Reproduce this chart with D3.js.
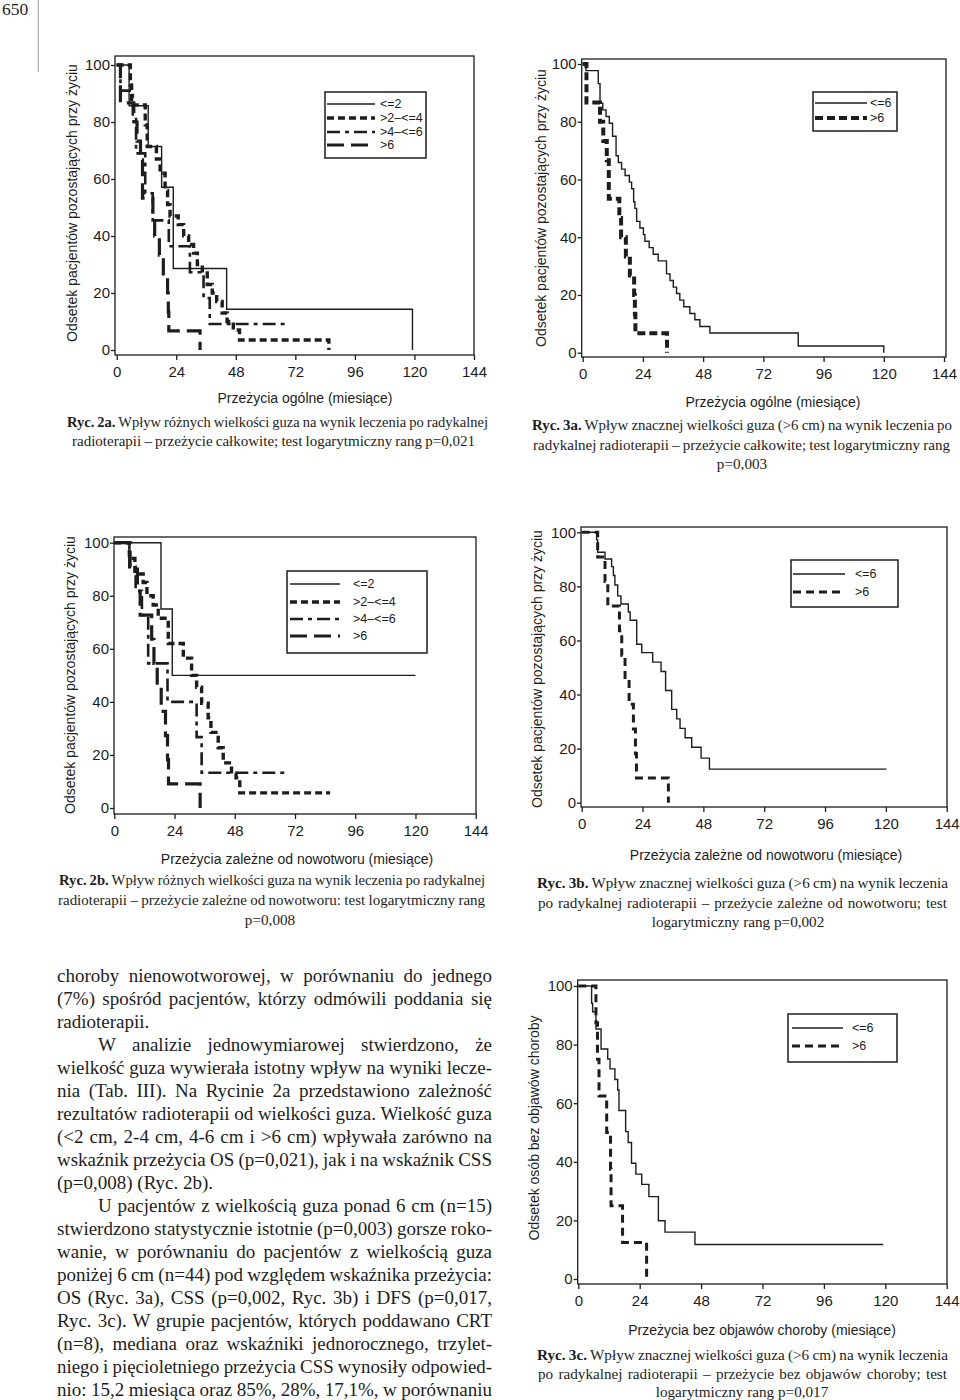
<!DOCTYPE html>
<html><head><meta charset="utf-8">
<script src="https://cdnjs.cloudflare.com/ajax/libs/d3/7.8.5/d3.min.js"></script>
<style>html,body{margin:0;padding:0;background:#fff;}svg{display:block;}</style>
</head><body>
<script>
// ================= DATA =================
const xTicks=[0,24,48,72,96,120,144];
const yTicks=[0,20,40,60,80,100];
const groups4=["<=2",">2–<=4",">4–<=6",">6"];
const groups2=["<=6",">6"];

// Overall survival (months, % alive) – Ryc. 2a / 3a
const os_le2=[[0,100],[5,85.7],[12.7,71.4],[18.1,57.1],[22.8,28.6],[44.3,14.3],[119.2,0]];
const os_gt2le4=[[0,100],[5.5,93],[6,86],[11.5,79],[12.3,71.4],[16,67],[17.5,62],[19.5,56],[20.5,51],[21.5,47],[24.8,44],[27,40],[29,37],[31,34],[32.5,30],[34.5,27],[36.5,23],[38.5,20],[40.3,17],[42.5,13],[44.5,10],[47,7],[49.5,3.5],[85.5,0]];
const os_gt4le6=[[0,100],[1.5,91],[6.5,82],[7.8,69],[11.5,55],[14.5,45.5],[21,36.4],[29.5,27.3],[35,18.2],[37.5,9.1],[67.8,9.1]];
const os_gt6=[[0,100],[1.5,86.7],[6.9,80],[8.2,73.3],[9.6,66.7],[10.4,53.3],[14.6,46.7],[15.3,40],[17.2,33.3],[18.8,26.7],[20.5,20],[20.8,13.3],[21,6.7],[33.6,0]];
const os_le6=[[0,100],[1.3,97.7],[6.2,93.2],[6.9,86.4],[8,84.1],[9.3,81.8],[10.6,79.5],[11.9,75],[13.3,68.2],[14.2,65.9],[15.5,63.6],[16.9,61.4],[18.6,59.1],[19.5,56.8],[20.3,52.3],[20.8,50],[21.5,45.5],[22.8,43.2],[24.2,40.9],[24.8,38.6],[26.5,36.4],[28.1,34.1],[30.1,31.8],[33.4,27.3],[34.8,25],[36.1,22.7],[37.4,20.5],[38.7,18.2],[40.3,15.9],[42.7,13.6],[44.7,11.4],[46.7,9.1],[50.7,6.8],[85.9,2.3],[120,0]];

// Cancer-specific survival – Ryc. 2b / 3b
const css_le2=[[0,100],[18.6,75],[23.1,50],[120,50]];
const css_gt2le4=[[0,100],[6,94.1],[8.2,88.2],[11.5,85],[13,80],[15.5,76.5],[17.5,71.5],[21.5,62],[27.5,56.5],[30.8,50],[32.8,45.5],[34.8,39.5],[37.4,34],[38.5,28.5],[41.4,22.7],[43.4,17],[46.7,13],[48.5,11.4],[50,5.7],[86,5.7]];
const css_gt4le6=[[0,100],[6,90.9],[8.5,81.8],[11,72.7],[13.5,54.5],[21.2,40],[32.8,26.7],[34.8,13.3],[69.3,13.3]];
const css_gt6=[[0,100],[6.3,90.9],[9.2,81.8],[10.3,72.7],[14.9,63.6],[15.8,54.5],[17.1,45.5],[18.7,36.4],[20.4,27.3],[21.2,18.2],[21.6,9.1],[34.2,0]];
const css_le6=[[0,100],[5.9,97.2],[6.3,92.6],[9.2,90.1],[11.8,87.3],[12.5,84],[13.1,80.5],[14.2,76.5],[15.5,73.5],[18.4,70.5],[19.1,67.5],[21.7,58.6],[23.7,55.5],[28,52],[31.3,48.5],[33.1,41.5],[35.5,34.5],[37.5,31],[38.8,27.5],[40.8,24],[43.4,20.5],[47.1,16.5],[50.4,12.4],[120.3,12.4]];

// Disease-free survival – Ryc. 3c
const dfs_le6=[[0,100],[5.2,94.1],[5.6,91.2],[6.9,85.3],[8.9,78.5],[11.5,75.1],[12.4,71.7],[14.3,68.1],[15.4,64.5],[15.9,57.5],[18.5,50.3],[19.5,46.6],[20.8,39.5],[22.5,35.8],[24.8,32.3],[27.6,28.1],[31.3,19.9],[33.9,16],[45.6,11.8],[119.2,11.8]];
const dfs_gt6=[[0,100],[6.9,87.5],[7.5,75],[8.1,62.5],[11.1,50],[12.6,37.5],[12.8,25],[17.3,12.5],[26.7,0]];

// Texts
const yTitleAlive="Odsetek pacjentów pozostających przy życiu";
const yTitleDFS="Odsetek osób bez objawów choroby";
const xTitleOS="Przeżycia ogólne (miesiące)";
const xTitleCSS="Przeżycia zależne od nowotworu (miesiące)";
const xTitleDFS="Przeżycia bez objawów choroby (miesiące)";
const cap2a=["Ryc. 2a."," Wpływ różnych wielkości guza na wynik leczenia po radykalnej","radioterapii – przeżycie całkowite; test logarytmiczny rang p=0,021"];
const cap3a=["Ryc. 3a."," Wpływ znacznej wielkości guza (>6 cm) na wynik leczenia po","radykalnej radioterapii – przeżycie całkowite; test logarytmiczny rang","p=0,003"];
const cap2b=["Ryc. 2b."," Wpływ różnych wielkości guza na wynik leczenia po radykalnej","radioterapii – przeżycie zależne od nowotworu: test logarytmiczny rang","p=0,008"];
const cap3b=["Ryc. 3b."," Wpływ znacznej wielkości guza (>6 cm) na wynik leczenia","po radykalnej radioterapii – przeżycie zależne od nowotworu; test","logarytmiczny rang p=0,002"];
const cap3c=["Ryc. 3c."," Wpływ znacznej wielkości guza (>6 cm) na wynik leczenia","po radykalnej radioterapii – przeżycie bez objawów choroby; test","logarytmiczny rang p=0,017"];
const bodyLines=[
"choroby nienowotworowej, w porównaniu do jednego",
"(7%) spośród pacjentów, którzy odmówili poddania się",
"radioterapii.",
"W analizie jednowymiarowej stwierdzono, że",
"wielkość guza wywierała istotny wpływ na wyniki lecze-",
"nia (Tab. III). Na Rycinie 2a przedstawiono zależność",
"rezultatów radioterapii od wielkości guza. Wielkość guza",
"(<2 cm, 2-4 cm, 4-6 cm i >6 cm) wpływała zarówno na",
"wskaźnik przeżycia OS (p=0,021), jak i na wskaźnik CSS",
"(p=0,008) (Ryc. 2b).",
"U pacjentów z wielkością guza ponad 6 cm (n=15)",
"stwierdzono statystycznie istotnie (p=0,003) gorsze roko-",
"wanie, w porównaniu do pacjentów z wielkością guza",
"poniżej 6 cm (n=44) pod względem wskaźnika przeżycia:",
"OS (Ryc. 3a), CSS (p=0,002, Ryc. 3b) i DFS (p=0,017,",
"Ryc. 3c). W grupie pacjentów, których poddawano CRT",
"(n=8), mediana oraz wskaźniki jednorocznego, trzylet-",
"niego i pięcioletniego przeżycia CSS wynosiły odpowied-",
"nio: 15,2 miesiąca oraz 85%, 28%, 17,1%, w porównaniu"];
const bodyIndented=[3,10];
const bodyRagged=[2,9];
const pageNumber="650";

// ================= STYLE / LAYOUT =================
const INK="#1d1d1d";
const SANS="'Liberation Sans', Arial, Helvetica, sans-serif";
const SERIF="'Liberation Serif', 'Times New Roman', serif";
const styles={
  solid:{w:1.4,dash:null},
  shortThick:{w:3.4,dash:"7,4"},
  longShort:{w:2.6,dash:"13,5,4,5"},
  longThick:{w:3.2,dash:"17,7"},
  blockThick:{w:4,dash:"8,4"},
  dash:{w:3,dash:"8,5"}
};

const charts=[
 {frame:{l:115,t:56,r:474,b:355}, xr:[116.7,474], yr:[350,65],
  series:[[os_le2,"solid"],[os_gt2le4,"shortThick"],[os_gt4le6,"longShort"],[os_gt6,"longThick"]], labels:groups4,
  legend:{l:325,t:92,r:426,b:158,lx0:327,lx1:375,tx:380,rows:[104,118,132,145]},
  xTitle:xTitleOS, xt:[305,398], yTitle:yTitleAlive, yt:[72,203],
  cap:cap2a, capLayout:[{x0:67,x1:488,y:422},{x0:72,x1:475,y:441}]},
 {frame:{l:581.7,t:59,r:946,b:357}, xr:[582.7,944], yr:[352.7,64],
  series:[[os_le6,"solid"],[os_gt6,"blockThick"]], labels:groups2,
  legend:{l:813,t:92,r:897,b:131,lx0:815,lx1:867,tx:870,rows:[103,118]},
  xTitle:xTitleOS, xt:[773,402], yTitle:yTitleAlive, yt:[541,208],
  cap:cap3a, capLayout:[{x0:532,x1:952,y:425},{x0:533,x1:950,y:445},{cx:742,y:464}]},
 {frame:{l:114,t:537,r:476,b:814}, xr:[114.3,475.7], yr:[808,542.7],
  series:[[css_le2,"solid"],[css_gt2le4,"shortThick"],[css_gt4le6,"longShort"],[css_gt6,"longThick"]], labels:groups4,
  legend:{l:287,t:571,r:427,b:653,lx0:290,lx1:340,tx:353,rows:[584,602,619,636]},
  xTitle:xTitleCSS, xt:[297,859], yTitle:yTitleAlive, yt:[70,675],
  cap:cap2b, capLayout:[{x0:59,x1:485,y:880},{x0:58,x1:485,y:900},{cx:270,y:920}]},
 {frame:{l:581,t:527,r:947,b:807}, xr:[581.7,946.7], yr:[802.7,532.3],
  series:[[css_le6,"solid"],[css_gt6,"dash"]], labels:groups2,
  legend:{l:791,t:560,r:898,b:607,lx0:793,lx1:845,tx:855,rows:[574,592]},
  xTitle:xTitleCSS, xt:[766,855], yTitle:yTitleAlive, yt:[537,669],
  cap:cap3b, capLayout:[{x0:537,x1:948,y:883},{x0:538,x1:947,y:903},{cx:738,y:922}]},
 {frame:{l:577.7,t:980,r:947,b:1284}, xr:[578.3,946.7], yr:[1279,986],
  series:[[dfs_le6,"solid"],[dfs_gt6,"dash"]], labels:groups2,
  legend:{l:788,t:1014,r:897,b:1062,lx0:792,lx1:843,tx:852,rows:[1028,1046]},
  xTitle:xTitleDFS, xt:[762,1330], yTitle:yTitleDFS, yt:[534,1128],
  cap:cap3c, capLayout:[{x0:537,x1:948,y:1355},{x0:538,x1:947,y:1374},{cx:742,y:1392}]}
];

// ================= DRAW =================
const svg=d3.select("body").append("svg").attr("width",960).attr("height",1400);
svg.append("rect").attr("width",960).attr("height",1400).attr("fill","#fff");

function textLine(parts,o){
  const t=svg.append("text").attr("y",o.y).attr("dy","0.35em")
    .attr("font-family",o.font).attr("font-size",o.size).attr("fill",INK).style("white-space","pre");
  parts.forEach(p=>t.append("tspan").attr("font-weight",p.b?"bold":null).text(p.t));
  if(o.cx!==undefined){t.attr("x",o.cx).attr("text-anchor","middle");return t;}
  t.attr("x",o.x0);
  if(o.x1===undefined) return t;
  const target=o.x1-o.x0;
  const full=parts.map(p=>p.t).join("");
  const n=(full.match(/ /g)||[]).length;
  let w=t.node().getComputedTextLength();
  // shrink the font if the words would not fit with near-normal spaces
  const minGap=-0.6;
  if(n>0 && (target-w)/n<minGap){
    let size=o.size;
    for(let k=0;k<12 && (target-w)/n<minGap;k++){
      size=size*Math.min(0.995,(target-n*minGap)/w);
      t.attr("font-size",size);
      w=t.node().getComputedTextLength();
    }
  }
  if(n>0) t.style("word-spacing",((target-w)/n)+"px");
  const w2=t.node().getBBox().width;
  if(Math.abs(w2-target)>2){t.style("word-spacing",null).attr("textLength",target).attr("lengthAdjust","spacing");}
  return t;
}

charts.forEach(c=>{
  const g=svg.append("g");
  const x=d3.scaleLinear().domain([0,144]).range(c.xr);
  const y=d3.scaleLinear().domain([0,100]).range(c.yr);
  const f=c.frame;
  g.append("rect").attr("x",f.l).attr("y",f.t).attr("width",f.r-f.l).attr("height",f.b-f.t)
    .attr("fill","none").attr("stroke",INK).attr("stroke-width",1.3);
  const xa=g.append("g").attr("transform",`translate(0,${f.b})`)
    .call(d3.axisBottom(x).tickValues(xTicks).tickSize(5).tickPadding(6).tickSizeOuter(0));
  const ya=g.append("g").attr("transform",`translate(${f.l},0)`)
    .call(d3.axisLeft(y).tickValues(yTicks).tickSize(4).tickPadding(1).tickSizeOuter(0));
  [xa,ya].forEach(a=>{
    a.select(".domain").remove();
    a.selectAll("text").attr("font-family",SANS).attr("font-size",15).attr("fill",INK);
    a.selectAll("line").attr("stroke",INK).attr("stroke-width",1.3);
  });
  const line=d3.line().x(d=>x(d[0])).y(d=>y(d[1])).curve(d3.curveStepAfter);
  c.series.forEach(([data,sk])=>{
    const st=styles[sk];
    g.append("path").datum(data).attr("d",line).attr("fill","none").attr("stroke",INK)
      .attr("stroke-width",st.w).attr("stroke-dasharray",st.dash);
  });
  // legend
  const L=c.legend;
  g.append("rect").attr("x",L.l).attr("y",L.t).attr("width",L.r-L.l).attr("height",L.b-L.t)
    .attr("fill","#fff").attr("stroke",INK).attr("stroke-width",1.5);
  c.series.forEach(([data,sk],i)=>{
    const st=styles[sk];
    g.append("line").attr("x1",L.lx0).attr("x2",L.lx1).attr("y1",L.rows[i]).attr("y2",L.rows[i])
      .attr("stroke",INK).attr("stroke-width",st.w).attr("stroke-dasharray",st.dash);
    g.append("text").attr("x",L.tx).attr("y",L.rows[i]).attr("dy","0.35em")
      .attr("font-family",SANS).attr("font-size",12.5).attr("fill",INK).text(c.labels[i]);
  });
  // titles
  g.append("text").attr("x",c.xt[0]).attr("y",c.xt[1]).attr("dy","0.35em").attr("text-anchor","middle")
    .attr("font-family",SANS).attr("font-size",14).attr("fill",INK).text(c.xTitle);
  g.append("text").attr("transform",`translate(${c.yt[0]},${c.yt[1]}) rotate(-90)`).attr("dy","0.35em")
    .attr("text-anchor","middle").attr("font-family",SANS).attr("font-size",14).attr("fill",INK).text(c.yTitle);
  // caption
  c.capLayout.forEach((lay,i)=>{
    const parts= i===0 ? [{t:c.cap[0],b:true},{t:c.cap[1]}] : [{t:c.cap[i+1]}];
    textLine(parts,Object.assign({font:SERIF,size:15.2},lay));
  });
});

// page number + rule
svg.append("text").attr("x",2).attr("y",15).attr("font-family",SERIF).attr("font-size",17.5).attr("fill",INK).text(pageNumber);
svg.append("line").attr("x1",38.3).attr("x2",38.3).attr("y1",0).attr("y2",72).attr("stroke","#9a9a9a").attr("stroke-width",1);

// body text
bodyLines.forEach((s,i)=>{
  const y=975+23*i;
  const x0=bodyIndented.includes(i)?98:57;
  const o={font:SERIF,size:19,y:y,x0:x0};
  if(!bodyRagged.includes(i)) o.x1=492;
  textLine([{t:s}],o);
});
</script>
</body></html>
